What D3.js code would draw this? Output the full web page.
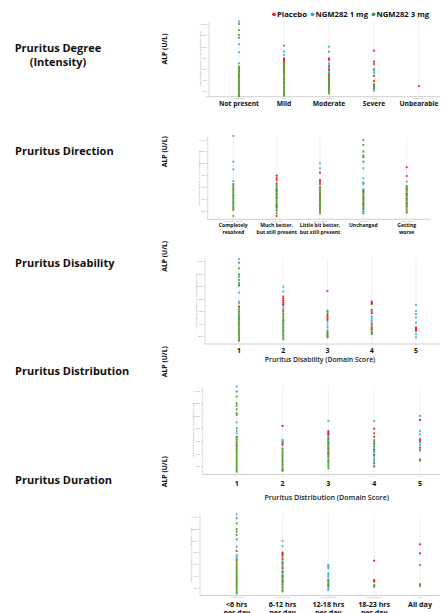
<!DOCTYPE html>
<html>
<head>
<meta charset="utf-8">
<script src="https://cdn.jsdelivr.net/npm/d3@7"></script>
<style>
	body { margin: 0; background: #fff; }
	svg { display: block; font-family: 'Open Sans', 'Noto Sans', sans-serif; }
</style>
</head>
<body>
<div class="chart"></div>
<script>
// legend
const groupNames = ['Placebo', 'NGM282 1 mg', 'NGM282 3 mg']
const yTicks = [200, 400, 600, 800, 1000, 1200, 1400]

// pruritus degree (intensity)
const degreeCats = ['Not present', 'Mild', 'Moderate', 'Severe', 'Unbearable']
const degreeLabels = [['Not present'], ['Mild'], ['Moderate'], ['Severe'], ['Unbearable']]
const degreePlacebo = [[], [783, 760, 735, 710, 693, 632, 560], [783, 753, 632, 560, 480, 420, 350, 270], [920, 722, 680, 465, 375, 315, 250], [285]]
const degree1mg = [[1441, 1035, 891, 693, 610, 465, 240], [902, 842, 660, 520, 400], [992, 902, 693, 660, 600, 520, 440, 380, 300, 220], [560, 524, 230, 200], []]
const degree3mg = [
	[1400, 1292, 1202, 1153, 632, 600, 570, 540, 510, 480, 450, 420, 390, 360, 330, 300, 270, 240, 210, 180, 150, 120, 100],
	[1010, 693, 670, 640, 610, 580, 550, 520, 490, 460, 430, 400, 370, 340, 310, 280, 250, 220, 190, 160, 130, 110],
	[590, 500, 450, 400, 360, 330, 300, 270, 240, 210, 180, 150],
	[590, 302, 280, 260, 240],
	[]
]

// pruritus direction
const directionCats = ['Completely resolved', 'Much better', 'Little bit better', 'Unchanged', 'Getting worse']
const directionLabels = [['Completely', 'resolved'], ['Much better,', 'but still present'], ['Little bit better,', 'but still present'], ['Unchanged'], ['Getting', 'worse']]
const directionPlacebo = [[], [788, 750, 716, 660, 540, 420, 300, 111], [839, 716, 688, 650, 560, 470, 380, 300, 220], [660, 520, 400, 300], [930, 783, 560, 480, 400, 330]]
const direction1mg = [[1456, 1024, 896, 699, 560, 464, 330], [640, 560, 480, 267, 220], [997, 913, 600, 500, 420, 280], [913, 745, 671, 640, 560, 430, 330, 230], [688, 600, 450, 280]]
const direction3mg = [
	[649, 620, 590, 560, 530, 500, 470, 440, 410, 380, 350, 320, 290, 260, 230, 212, 111],
	[620, 590, 560, 520, 490, 460, 430, 400, 370, 340, 310, 280, 250, 200, 156],
	[593, 560, 530, 500, 460, 430, 400, 370, 340, 310, 280, 250, 220, 190, 156],
	[1388, 1304, 1192, 1124, 1100, 1024, 548, 520, 490, 460, 430, 400, 370, 340, 310, 280, 250, 220, 190, 156],
	[615, 580, 550, 520, 490, 460, 430, 400, 370, 340, 310, 280, 250, 220, 190, 166]
]

// pruritus disability (domain score)
const disabilityCats = ['1', '2', '3', '4', '5']
const disabilityLabels = [['1'], ['2'], ['3'], ['4'], ['5']]
const disabilityPlacebo = [[669], [829, 800, 770, 740, 710, 696, 600], [920, 536, 510, 480, 456], [749, 730, 712, 616, 590, 563, 380, 340, 310], [339, 320, 300, 285]]
const disability1mg = [[1432, 1050, 893, 749, 720, 483], [989, 909, 660, 630, 450, 280], [605, 420, 380, 340, 300], [600, 509, 480, 450, 420, 403], [696, 600, 552, 499, 413, 227, 179]]
const disability3mg = [
	[1373, 1283, 1187, 1149, 1096, 1027, 1005, 653, 620, 590, 560, 530, 500, 470, 440, 410, 380, 350, 320, 290, 260, 230, 200, 170, 140, 125],
	[563, 540, 510, 480, 450, 420, 390, 360, 330, 300, 270, 240, 210, 180, 147],
	[590, 560, 269, 250, 230, 210, 190, 179],
	[330, 300, 270, 250, 230],
	[]
]

// pruritus distribution (domain score)
const distributionCats = ['1', '2', '3', '4', '5']
const distributionLabels = [['1'], ['2'], ['3'], ['4'], ['5']]
const distributionPlacebo = [[], [835, 586, 560, 533, 125], [755, 730, 710, 692, 640, 560, 480, 400], [792, 719, 665, 560, 460, 380], [930, 628, 597, 490, 454]]
const distribution1mg = [[1459, 893, 755, 719, 520], [613, 590], [914, 665, 600, 520, 440, 360, 280], [914, 613, 540, 480, 420, 340, 260, 189], [993, 755, 703, 570, 533, 443]]
const distribution3mg = [
	[1379, 1300, 1195, 1157, 1100, 1036, 1009, 798, 665, 649, 620, 590, 560, 530, 500, 470, 440, 410, 380, 350, 320, 290, 260, 230, 200, 170, 140, 110],
	[481, 460, 430, 400, 370, 340, 310, 280, 250, 220, 190, 160, 137],
	[620, 580, 540, 500, 460, 420, 380, 340, 300, 260, 230, 200, 163],
	[590, 510, 440, 370, 300, 240, 200],
	[306, 284]
]

// pruritus duration
const durationCats = ['<6 hrs per day', '6-12 hrs per day', '12-18 hrs per day', '18-23 hrs per day', 'All day']
const durationLabels = [['<6 hrs', 'per day'], ['6-12 hrs', 'per day'], ['12-18 hrs', 'per day'], ['18-23 hrs', 'per day'], ['All day']]
const durationPlacebo = [[817, 664], [788, 770, 749, 680, 600, 520, 450, 380, 300], [], [652, 324, 310, 295], [930, 778]]
const duration1mg = [[1440, 890, 749, 720, 693], [987, 902, 640, 560, 480, 410, 340, 260, 200], [579, 560, 540, 523, 438, 410, 380, 324, 290, 260, 230, 200, 170, 154], [], []]
const duration3mg = [
	[1372, 1287, 1190, 1145, 1089, 1015, 635, 600, 570, 540, 510, 480, 450, 420, 390, 360, 330, 300, 270, 240, 210, 180, 150, 120, 98],
	[720, 620, 540, 460, 400, 360, 320, 280, 240, 200, 160, 130],
	[330, 300, 250, 220],
	[239, 225, 210],
	[579, 256, 240, 222]
]

const dotColors = ['#e8262b', '#3fb8dc', '#5a9e32']
const legendColors = ['#e8262b', '#1eaee8', '#22a84c']

const panels = [
	{title: ['Pruritus Degree', '(Intensity)'], cats: degreeCats, labels: degreeLabels, groups: [degreePlacebo, degree1mg, degree3mg],
		axisX: 209, yTop: 21, y200: 90.7, y1400: 24, base: 96.7, x0: 239, x1: 419, lineX0: 206, lineX1: 440,
		titleY: [52, 66], alpY: 49, catY: [105.8], catSize: 6.7},
	{title: ['Pruritus Direction'], cats: directionCats, labels: directionLabels, groups: [directionPlacebo, direction1mg, direction3mg],
		axisX: 207.7, yTop: 137, y200: 210.7, y1400: 139.3, base: 219.3, x0: 233.3, x1: 406.7, lineX0: 207, lineX1: 430,
		titleY: [155.3], alpY: 151.7, catY: [226.8, 234.3], catSize: 5.1},
	{title: ['Pruritus Disability'], cats: disabilityCats, labels: disabilityLabels, groups: [disabilityPlacebo, disability1mg, disability3mg],
		axisX: 205, yTop: 258, y200: 336, y1400: 261, base: 344, x0: 239, x1: 416, lineX0: 205, lineX1: 440,
		titleY: [266.5], alpY: 256.3, catY: [352.5], catSize: 7, axisTitle: 'Pruritus Disability (Domain Score)', axisTitleX: 320, axisTitleY: 361.5, axisTitleSize: 6.8},
	{title: ['Pruritus Distribution'], cats: distributionCats, labels: distributionLabels, groups: [distributionPlacebo, distribution1mg, distribution3mg],
		axisX: 202.3, yTop: 386, y200: 466, y1400: 390.3, base: 474.5, x0: 236.7, x1: 420, lineX0: 203, lineX1: 440,
		titleY: [375.2], alpY: 361.7, catY: [486], catSize: 7, axisTitle: 'Pruritus Distribution (Domain Score)', axisTitleX: 326.7, axisTitleY: 500.3, axisTitleSize: 7.1},
	{title: ['Pruritus Duration'], cats: durationCats, labels: durationLabels, groups: [durationPlacebo, duration1mg, duration3mg],
		axisX: 200, yTop: 514, y200: 587.3, y1400: 516.7, base: 595.5, x0: 236.7, x1: 420, lineX0: 200, lineX1: 440,
		titleY: [483.5], alpY: 471.7, catY: [606.5, 615], catSize: 7.1}
]

const width = 441
const height = 613
const svg = d3.select('.chart')
	.append('svg')
	.attr('width', width)
	.attr('height', height)
	.attr('viewBox', [0, 0, width, height])

// legend on top
let lx = 272
groupNames.forEach((name, i) => {
	svg.append('circle')
		.attr('cx', lx + 2)
		.attr('cy', 14.3)
		.attr('r', 1.9)
		.attr('fill', legendColors[i])
	const t = svg.append('text')
		.text(name)
		.attr('x', lx + 5)
		.attr('y', 17)
		.attr('font-size', '7.7px')
		.attr('font-weight', 'bold')
		.attr('fill', '#111')
	lx += 5 + t.node().getComputedTextLength() + 3.5
})

panels.forEach(p => {
	const g = svg.append('g')
	const x = d3.scalePoint().domain(p.cats).range([p.x0, p.x1])
	const y = d3.scaleLinear().domain([200, 1400]).range([p.y200, p.y1400])

	// panel title on the left
	g.selectAll('text.title')
		.data(p.title)
		.enter()
		.append('text')
		.attr('class', 'title')
		.text(d => d)
		.attr('x', p.title.length > 1 ? 58 : 15)
		.attr('y', (d, i) => p.titleY[i])
		.attr('text-anchor', p.title.length > 1 ? 'middle' : 'start')
		.attr('font-size', '11px')
		.attr('font-weight', 'bold')
		.attr('fill', '#111')

	// ALP label
	g.append('text')
		.text('ALP (U/L)')
		.attr('transform', `translate(166.5,${p.alpY}) rotate(-90)`)
		.attr('text-anchor', 'middle')
		.attr('font-size', '6.8px')
		.attr('font-weight', 'bold')
		.attr('fill', '#111')

	// tiny axis title from the original plot
	g.append('text')
		.text('Mean Pruritus Measure of ALP (Unadjusted Scale)')
		.attr('transform', `translate(${p.axisX - 8},${(p.yTop + p.base) / 2}) rotate(-90)`)
		.attr('text-anchor', 'middle')
		.attr('font-size', '2.4px')
		.attr('fill', '#888')

	// vertical grid lines
	g.selectAll('line.grid')
		.data(p.cats)
		.enter()
		.append('line')
		.attr('x1', d => x(d))
		.attr('x2', d => x(d))
		.attr('y1', p.yTop)
		.attr('y2', p.base)
		.attr('stroke', '#e6e6e6')
		.attr('stroke-width', 0.6)

	// y axis
	const yAxis = g.append('g')
		.attr('transform', `translate(${p.axisX},0)`)
		.call(d3.axisLeft(y).tickValues(yTicks).tickSize(1.5).tickPadding(1))
	yAxis.select('.domain').remove()
	yAxis.selectAll('line').attr('stroke', '#aaa').attr('stroke-width', 0.4)
	yAxis.selectAll('text').attr('font-size', '2.4px').attr('fill', '#888')
	g.append('line')
		.attr('x1', p.axisX).attr('x2', p.axisX)
		.attr('y1', p.yTop).attr('y2', p.base)
		.attr('stroke', '#bbb').attr('stroke-width', 0.5)

	// x axis line
	g.append('line')
		.attr('x1', p.lineX0).attr('x2', p.lineX1)
		.attr('y1', p.base).attr('y2', p.base)
		.attr('stroke', '#c4c4c4').attr('stroke-width', 0.8)

	// tiny category ticks under the axis
	g.selectAll('text.tiny')
		.data(p.cats)
		.enter()
		.append('text')
		.text(d => d)
		.attr('x', d => x(d))
		.attr('y', p.base + 2.3)
		.attr('text-anchor', 'middle')
		.attr('font-size', '2px')
		.attr('fill', '#999')

	// dots, placebo first, 3 mg on top
	p.groups.forEach((grp, gi) => {
		const pts = []
		grp.forEach((vals, ci) => vals.forEach(v => pts.push({cat: p.cats[ci], v: v})))
		g.selectAll('circle.g' + gi)
			.data(pts)
			.enter()
			.append('circle')
			.attr('cx', d => x(d.cat))
			.attr('cy', d => y(d.v))
			.attr('r', 1.1)
			.attr('fill', dotColors[gi])
	})

	// bold category labels
	p.cats.forEach((c, ci) => {
		g.selectAll(null)
			.data(p.labels[ci])
			.enter()
			.append('text')
			.text(d => d)
			.attr('x', x(c))
			.attr('y', (d, i) => p.catY[i])
			.attr('text-anchor', 'middle')
			.attr('font-size', p.catSize + 'px')
			.attr('font-weight', 'bold')
			.attr('fill', '#111')
	})

	if (p.axisTitle) {
		g.append('text')
			.text(p.axisTitle)
			.attr('x', p.axisTitleX)
			.attr('y', p.axisTitleY)
			.attr('text-anchor', 'middle')
			.attr('font-size', p.axisTitleSize + 'px')
			.attr('font-weight', 600)
			.attr('fill', '#222')
	}
})
</script>
</body>
</html>
